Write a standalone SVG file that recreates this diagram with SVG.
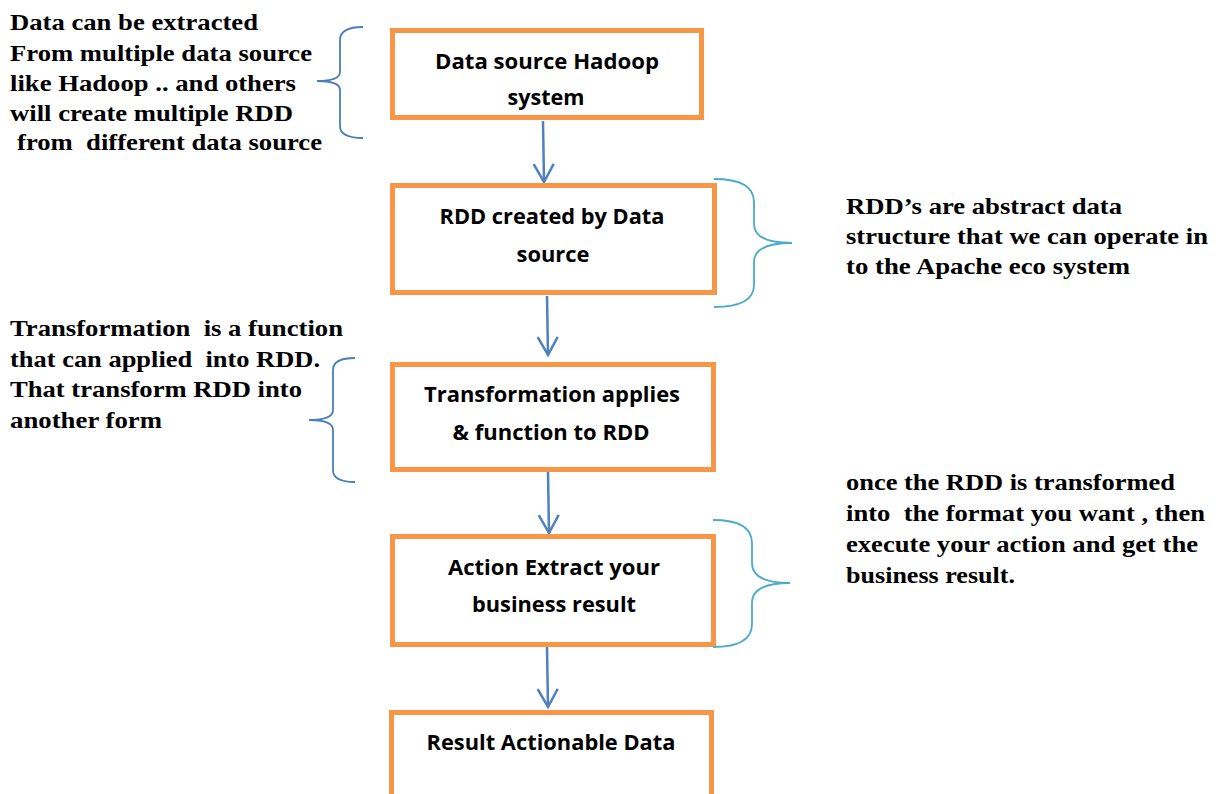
<svg xmlns="http://www.w3.org/2000/svg" width="1220" height="794" viewBox="0 0 1220 794">
<style>
.box{fill:#fff;stroke:#F79646;stroke-width:5}
.bt{font-family:"Open Sans","Liberation Sans",sans-serif;font-weight:700;font-size:21px;fill:#000;text-anchor:middle}
.nt{font-family:"Liberation Serif","Times New Roman",serif;font-weight:700;font-size:23px;fill:#000;white-space:pre}
.arr{fill:none;stroke:#4F81BD;stroke-width:2.5}
.bl{fill:none;stroke:#4A7EBB;stroke-width:1.8}
.bc{fill:none;stroke:#4BACC6;stroke-width:1.8}
</style>
<defs>
<marker id="ah" markerWidth="24" markerHeight="24" refX="20" refY="10" orient="auto" markerUnits="userSpaceOnUse" viewBox="0 0 24 20" overflow="visible">
<path d="M2,0 L20,10 L2,20" fill="none" stroke="#4F81BD" stroke-width="2.5"/>
</marker>
</defs>
<rect width="1220" height="794" fill="#fff"/>

<g id="connectors">
<path class="arr" d="M543,121 L544,182" marker-end="url(#ah)"/>
<path class="arr" d="M547,296 L548,355" marker-end="url(#ah)"/>
<path class="arr" d="M548,472 L549,533" marker-end="url(#ah)"/>
<path class="arr" d="M547,647 L548,707" marker-end="url(#ah)"/>
</g>

<g id="node-datasource">
<rect class="box" x="392.5" y="30.5" width="309" height="87"/>
<text class="bt" x="547" y="69" textLength="224" lengthAdjust="spacingAndGlyphs">Data source Hadoop</text>
<text class="bt" x="546" y="105" textLength="77" lengthAdjust="spacingAndGlyphs">system</text>
</g>

<g id="node-rdd">
<rect class="box" x="392.5" y="185.5" width="322" height="107"/>
<text class="bt" x="552" y="224" textLength="225" lengthAdjust="spacingAndGlyphs">RDD created by Data</text>
<text class="bt" x="553" y="262" textLength="73" lengthAdjust="spacingAndGlyphs">source</text>
</g>

<g id="node-transform">
<rect class="box" x="392.5" y="364.5" width="321" height="105"/>
<text class="bt" x="552" y="402" textLength="256" lengthAdjust="spacingAndGlyphs">Transformation applies</text>
<text class="bt" x="551" y="440" textLength="197" lengthAdjust="spacingAndGlyphs">&amp; function to RDD</text>
</g>

<g id="node-action">
<rect class="box" x="392.5" y="536.5" width="321" height="108"/>
<text class="bt" x="554" y="575" textLength="212" lengthAdjust="spacingAndGlyphs">Action Extract your</text>
<text class="bt" x="554" y="612" textLength="164" lengthAdjust="spacingAndGlyphs">business result</text>
</g>

<g id="node-result">
<rect class="box" x="391.5" y="712.5" width="320" height="90"/>
<text class="bt" x="551" y="750" textLength="249" lengthAdjust="spacingAndGlyphs">Result Actionable Data</text>
</g>

<g id="note-datasource">
<path class="bl" d="M363,27 Q340,27 340,40 L340,72 Q340,81 317,81 Q340,81 340,90 L340,126 Q340,138 363,138"/>
<text class="nt" x="10" y="30" textLength="248" lengthAdjust="spacingAndGlyphs">Data can be extracted</text>
<text class="nt" x="10" y="61" textLength="302" lengthAdjust="spacingAndGlyphs">From multiple data source</text>
<text class="nt" x="10" y="91" textLength="286" lengthAdjust="spacingAndGlyphs">like Hadoop .. and others</text>
<text class="nt" x="10" y="121" textLength="283" lengthAdjust="spacingAndGlyphs">will create multiple RDD</text>
<text class="nt" x="17" y="150" textLength="305" lengthAdjust="spacingAndGlyphs">from  different data source</text>
</g>

<g id="note-rdd">
<path class="bc" d="M714,179 Q754,179 754,202 L754,224 Q754,243 792,243 Q754,243 754,262 L754,285 Q754,307 714,307"/>
<text class="nt" x="846" y="214" textLength="276" lengthAdjust="spacingAndGlyphs">RDD’s are abstract data</text>
<text class="nt" x="846" y="244" textLength="362" lengthAdjust="spacingAndGlyphs">structure that we can operate in</text>
<text class="nt" x="846" y="274" textLength="284" lengthAdjust="spacingAndGlyphs">to the Apache eco system</text>
</g>

<g id="note-transform">
<path class="bl" d="M355,358 Q333,358 333,370 L333,410 Q333,420 309,420 Q333,420 333,430 L333,470 Q333,482 355,482"/>
<text class="nt" x="10" y="336" textLength="333" lengthAdjust="spacingAndGlyphs">Transformation  is a function</text>
<text class="nt" x="10" y="367" textLength="310" lengthAdjust="spacingAndGlyphs">that can applied  into RDD.</text>
<text class="nt" x="10" y="397" textLength="292" lengthAdjust="spacingAndGlyphs">That transform RDD into</text>
<text class="nt" x="10" y="428" textLength="152" lengthAdjust="spacingAndGlyphs">another form</text>
</g>

<g id="note-action">
<path class="bc" d="M713,520 Q752,520 752,543 L752,563 Q752,583 790,583 Q752,583 752,603 L752,624 Q752,647 713,647"/>
<text class="nt" x="846" y="490" textLength="329" lengthAdjust="spacingAndGlyphs">once the RDD is transformed</text>
<text class="nt" x="846" y="521" textLength="359" lengthAdjust="spacingAndGlyphs">into  the format you want , then</text>
<text class="nt" x="846" y="552" textLength="352" lengthAdjust="spacingAndGlyphs">execute your action and get the</text>
<text class="nt" x="846" y="583" textLength="169" lengthAdjust="spacingAndGlyphs">business result.</text>
</g>
</svg>
